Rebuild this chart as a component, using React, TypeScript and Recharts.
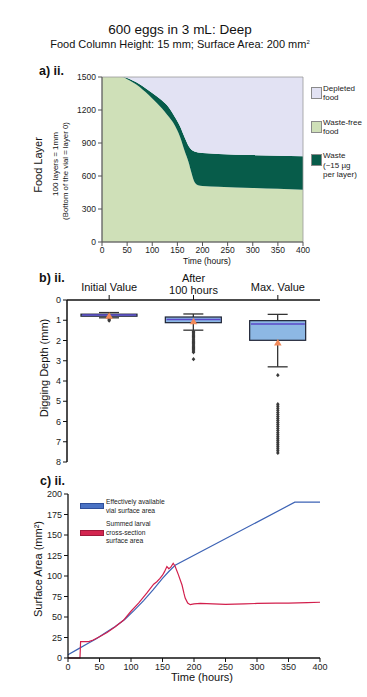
import React from "react";
import {
  Area,
  Bar,
  ComposedChart,
  Line,
  LineChart,
  ReferenceArea,
  Scatter,
  XAxis,
  YAxis,
} from "recharts";

const FONT = '"Liberation Sans", Arial, Helvetica, sans-serif';

// a) ii. food column over time
const foodHours = [0, 20, 40, 50, 60, 75, 86, 100, 119, 130, 145, 155, 165, 172, 178, 184, 191, 200, 232, 300, 350, 400];
const wasteFreeTop = [1500, 1500, 1500, 1480, 1455, 1410, 1365, 1305, 1215, 1155, 1060, 960, 820, 730, 630, 545, 517, 510, 503, 492, 484, 476];
const wasteTop = [1500, 1500, 1500, 1490, 1470, 1435, 1400, 1355, 1288, 1240, 1136, 1055, 945, 875, 838, 822, 813, 808, 800, 790, 785, 779];
const foodTicks = [0, 300, 600, 900, 1200, 1500];
const hourTicks = [0, 50, 100, 150, 200, 250, 300, 350, 400];

// b) ii. digging depth box plots
const categories = ["Initial Value", "After\n100 hours", "Max. Value"];
const whiskerTop = [0.62, 0.69, 0.71];
const q1 = [0.7, 0.84, 1.02];
const medians = [0.74, 0.96, 1.19];
const q3 = [0.8, 1.12, 1.99];
const whiskerBottom = [0.88, 1.49, 3.3];
const means = [0.78, 1.05, 2.1];
const initialOutliers = [0.93, 0.98, 1.02];
const after100Outliers = [1.56, 1.62, 1.68, 1.74, 1.8, 1.86, 1.92, 1.98, 2.04, 2.1, 2.16, 2.22, 2.28, 2.34, 2.4, 2.46, 2.52, 2.58, 2.92];
const maxOutliers = [3.71, 5.15, 5.25, 5.35, 5.45, 5.55, 5.65, 5.75, 5.85, 5.95, 6.05, 6.15, 6.25, 6.35, 6.45, 6.55, 6.65, 6.75, 6.85, 6.95, 7.05, 7.15, 7.25, 7.35, 7.45, 7.55];
const depthTicks = [0, 1, 2, 3, 4, 5, 6, 7, 8];

// c) ii. surface area
const vialHours = [0, 15, 30, 45, 60, 75, 90, 105, 120, 135, 150, 160, 170, 360, 400];
const vialArea = [4, 10.5, 17, 23.5, 31, 38.5, 47, 58, 70, 83, 97, 105.5, 113, 190, 190];
const larvaHours = [0, 19, 20, 33, 40, 50, 62, 75, 88, 100, 112, 125, 136, 141, 146, 150, 153, 157, 160, 163, 167, 170, 175, 181, 184, 186, 190, 194, 200, 210, 230, 250, 280, 300, 330, 350, 380, 400];
const larvaArea = [0, 0, 20, 20, 22, 26, 31, 38, 46, 57, 67, 79, 90, 93, 97, 101, 105, 111.5, 109, 110.5, 115.5, 112, 102, 89, 79, 73, 67, 65, 66, 66.5, 66, 65.5, 66, 66.5, 67, 67, 67.5, 68];
const areaTicks = [0, 25, 50, 75, 100, 125, 150, 175, 200];

const foodRows = foodHours.map((t, i) => ({
  t,
  wasteFree: wasteFreeTop[i],
  waste: wasteTop[i] - wasteFreeTop[i],
  depleted: 1500 - wasteTop[i],
}));

const boxRows = categories.map((label, i) => ({
  label,
  whisker: [whiskerTop[i], whiskerBottom[i]],
  box: [q1[i], q3[i]],
  median: medians[i],
  mean: means[i],
}));

const outlierRows = [
  ...initialOutliers.map((v) => ({ label: categories[0], v })),
  ...after100Outliers.map((v) => ({ label: categories[1], v })),
  ...maxOutliers.map((v) => ({ label: categories[2], v })),
];

const vialRows = vialHours.map((t, i) => ({ t, v: vialArea[i] }));
const larvaRows = larvaHours.map((t, i) => ({ t, v: larvaArea[i] }));

const AxisTitle = (props: any) => {
  const { px, py, txt, size, vertical } = props;
  return (
    <text
      x={px}
      y={py}
      fontSize={size}
      fill="#111"
      textAnchor="middle"
      transform={vertical ? `rotate(-90 ${px} ${py})` : undefined}
    >
      {txt}
    </text>
  );
};

const FoodLayerTitle = () => (
  <g>
    <AxisTitle px={42} py={105} txt="Food Layer" size={11} vertical />
    <AxisTitle px={57.5} py={104} txt="100 layers = 1mm" size={8} vertical />
    <AxisTitle px={67.5} py={111} txt="(Bottom of the vial = layer 0)" size={7.8} vertical />
  </g>
);

const CategoryTick = (props: any) => {
  const { x, y, payload } = props;
  const lines = String(payload.value).split("\n");
  const base = lines.length > 1 ? y - 11 : y - 2.5;
  return (
    <text x={x} textAnchor="middle" fontSize={11} fill="#111">
      {lines.map((l, i) => (
        <tspan key={i} x={x} y={base + i * 12}>
          {l}
        </tspan>
      ))}
    </text>
  );
};

const boxEdges = (p: any) => {
  const top = Math.min(p.y, p.y + p.height);
  const bottom = Math.max(p.y, p.y + p.height);
  return { top, bottom };
};

const WhiskerShape = (p: any) => {
  if (p.x == null) return <g />;
  const { top, bottom } = boxEdges(p);
  const cx = p.x + p.width / 2;
  return (
    <g stroke="#333" strokeWidth={1.3}>
      <line x1={cx} x2={cx} y1={top} y2={bottom} />
      <line x1={cx - 10} x2={cx + 10} y1={top} y2={top} />
      <line x1={cx - 10} x2={cx + 10} y1={bottom} y2={bottom} />
    </g>
  );
};

const BoxShape = (p: any) => {
  if (p.x == null) return <g />;
  const { top, bottom } = boxEdges(p);
  return (
    <rect
      x={p.x}
      y={top}
      width={p.width}
      height={Math.max(bottom - top, 1)}
      fill="#8db8e4"
      stroke="#1d2233"
      strokeWidth={1.2}
    />
  );
};

const MedianShape = (p: any) =>
  p.cx == null ? <g /> : (
    <line x1={p.cx - 27} x2={p.cx + 27} y1={p.cy} y2={p.cy} stroke="#5a48c8" strokeWidth={1.5} />
  );

const MeanShape = (p: any) =>
  p.cx == null ? <g /> : (
    <polygon
      points={`${p.cx},${p.cy - 3.5} ${p.cx - 3.8},${p.cy + 3} ${p.cx + 3.8},${p.cy + 3}`}
      fill="#f28a5a"
    />
  );

const OutlierShape = (p: any) =>
  p.cx == null ? <g /> : (
    <polygon
      points={`${p.cx},${p.cy - 2.2} ${p.cx + 1.8},${p.cy} ${p.cx},${p.cy + 2.2} ${p.cx - 1.8},${p.cy}`}
      fill="#3a3a3a"
    />
  );

const legendText: React.CSSProperties = {
  position: "absolute",
  fontSize: 8,
  lineHeight: "9.5px",
  color: "#222",
};

const swatch = (fill: string, stroke: string): React.CSSProperties => ({
  position: "absolute",
  background: fill,
  border: `1px solid ${stroke}`,
  boxSizing: "border-box",
});

const App = () => {
  return (
    <div
      style={{
        position: "relative",
        width: 367,
        height: 697,
        fontFamily: FONT,
        background: "#fff",
        overflow: "hidden",
        color: "#111",
      }}
    >
      <style>{"body{margin:0}"}</style>

      <div style={{ position: "absolute", left: 0, width: 360, top: 22, textAlign: "center", fontSize: 13.5, lineHeight: "16px" }}>
        600 eggs in 3 mL: Deep
      </div>
      <div style={{ position: "absolute", left: 0, width: 360, top: 37.5, textAlign: "center", fontSize: 11, lineHeight: "13px" }}>
        Food Column Height: 15 mm; Surface Area: 200 mm<sup style={{ fontSize: 6, verticalAlign: "top", lineHeight: "8px" }}>2</sup>
      </div>

      <div style={{ position: "absolute", left: 39, top: 64, fontSize: 12.5, fontWeight: 700, lineHeight: "14px" }}>a) ii.</div>
      <div style={{ position: "absolute", left: 39, top: 270.5, fontSize: 12.5, fontWeight: 700, lineHeight: "14px" }}>b) ii.</div>
      <div style={{ position: "absolute", left: 40, top: 474, fontSize: 12.5, fontWeight: 700, lineHeight: "14px" }}>c) ii.</div>

      {/* a) ii. */}
      <div style={{ position: "absolute", left: 0, top: 60 }}>
        <ComposedChart width={367} height={210} data={foodRows} margin={{ top: 17, right: 64, bottom: 0, left: 0 }}>
          <XAxis
            dataKey="t"
            type="number"
            domain={[0, 400]}
            ticks={hourTicks}
            interval={0}
            height={28}
            tickSize={4}
            tickMargin={1}
            stroke="#555"
            tick={{ fontSize: 8.5, fill: "#222" }}
            label={<AxisTitle px={207} py={204} txt="Time (hours)" size={8.5} />}
          />
          <YAxis
            type="number"
            domain={[0, 1500]}
            ticks={foodTicks}
            interval={0}
            width={102}
            tickSize={4}
            stroke="#555"
            tick={{ fontSize: 8.5, fill: "#222" }}
            label={<FoodLayerTitle />}
          />
          <Area type="monotone" dataKey="wasteFree" stackId="f" stroke="none" fill="#cfe0b8" fillOpacity={1} isAnimationActive={false} />
          <Area type="monotone" dataKey="waste" stackId="f" stroke="none" fill="#075c4a" fillOpacity={1} isAnimationActive={false} />
          <Area type="monotone" dataKey="depleted" stackId="f" stroke="none" fill="#e2e2f3" fillOpacity={1} isAnimationActive={false} />
          <ReferenceArea x1={0} x2={400} y1={0} y2={1500} fill="none" stroke="#9a9a9a" strokeWidth={0.8} />
        </ComposedChart>
      </div>

      <div style={{ ...swatch("#e2e2f3", "#8a8a8a"), left: 311, top: 87, width: 11, height: 12 }} />
      <div style={{ ...legendText, left: 323, top: 83.5 }}>Depleted<br />food</div>
      <div style={{ ...swatch("#cfe0b8", "#8a8a8a"), left: 311, top: 121, width: 11, height: 12 }} />
      <div style={{ ...legendText, left: 323, top: 117.5 }}>Waste-free<br />food</div>
      <div style={{ ...swatch("#075c4a", "#8a8a8a"), left: 311, top: 154, width: 11, height: 12 }} />
      <div style={{ ...legendText, left: 323, top: 151.3 }}>Waste<br />(~15 µg<br />per layer)</div>

      {/* b) ii. */}
      <div style={{ position: "absolute", left: 0, top: 270 }}>
        <ComposedChart width={367} height={200} data={boxRows} barGap={-56} margin={{ top: 0, right: 47, bottom: 8, left: 0 }}>
          <XAxis
            dataKey="label"
            type="category"
            orientation="top"
            allowDuplicatedCategory={false}
            height={30}
            tickSize={5}
            axisLine={{ stroke: "#111", strokeWidth: 1.5 }}
            tickLine={{ stroke: "#111" }}
            tick={<CategoryTick />}
            interval={0}
          />
          <YAxis
            type="number"
            reversed
            domain={[0, 8]}
            ticks={depthTicks}
            interval={0}
            width={67}
            tickSize={4}
            axisLine={{ stroke: "#111", strokeWidth: 1.5 }}
            tickLine={{ stroke: "#111" }}
            tick={{ fontSize: 9, fill: "#222" }}
            label={<AxisTitle px={48} py={98} txt="Digging Depth (mm)" size={11} vertical />}
          />
          <Bar dataKey="whisker" barSize={56} shape={<WhiskerShape />} isAnimationActive={false} />
          <Bar dataKey="box" barSize={56} shape={<BoxShape />} isAnimationActive={false} />
          <Scatter dataKey="median" shape={<MedianShape />} isAnimationActive={false} />
          <Scatter data={outlierRows} dataKey="v" shape={<OutlierShape />} isAnimationActive={false} />
          <Scatter dataKey="mean" shape={<MeanShape />} isAnimationActive={false} />
        </ComposedChart>
      </div>

      {/* c) ii. */}
      <div style={{ position: "absolute", left: 0, top: 470 }}>
        <LineChart width={367} height={227} margin={{ top: 24, right: 47, bottom: 9, left: 0 }}>
          <XAxis
            dataKey="t"
            type="number"
            domain={[0, 400]}
            ticks={hourTicks}
            interval={0}
            height={30}
            tickSize={4}
            axisLine={{ stroke: "#111", strokeWidth: 1.3 }}
            tickLine={{ stroke: "#111" }}
            tick={{ fontSize: 9, fill: "#222" }}
            label={<AxisTitle px={202} py={211} txt="Time (hours)" size={11} />}
          />
          <YAxis
            type="number"
            domain={[0, 200]}
            ticks={areaTicks}
            interval={0}
            width={68}
            tickSize={4}
            axisLine={{ stroke: "#111", strokeWidth: 1.3 }}
            tickLine={{ stroke: "#111" }}
            tick={{ fontSize: 9, fill: "#222" }}
            label={<AxisTitle px={42} py={99} txt="Surface Area (mm²)" size={11} vertical />}
          />
          <Line data={vialRows} dataKey="v" type="linear" stroke="#3d63b5" strokeWidth={1.2} dot={false} isAnimationActive={false} />
          <Line data={larvaRows} dataKey="v" type="linear" stroke="#d21f4c" strokeWidth={1.2} dot={false} isAnimationActive={false} />
        </LineChart>
      </div>

      <div style={{ ...swatch("#4a72c4", "#2f4f9a"), left: 80, top: 503, width: 24, height: 6 }} />
      <div style={{ ...legendText, fontSize: 6.7, lineHeight: "8.5px", left: 106, top: 498 }}>
        Effectively available<br />vial surface area
      </div>
      <div style={{ ...swatch("#d3254f", "#a01a3b"), left: 80, top: 530, width: 24, height: 6 }} />
      <div style={{ ...legendText, fontSize: 6.7, lineHeight: "8.5px", left: 106, top: 520 }}>
        Summed larval<br />cross-section<br />surface area
      </div>
    </div>
  );
};

export default App;
